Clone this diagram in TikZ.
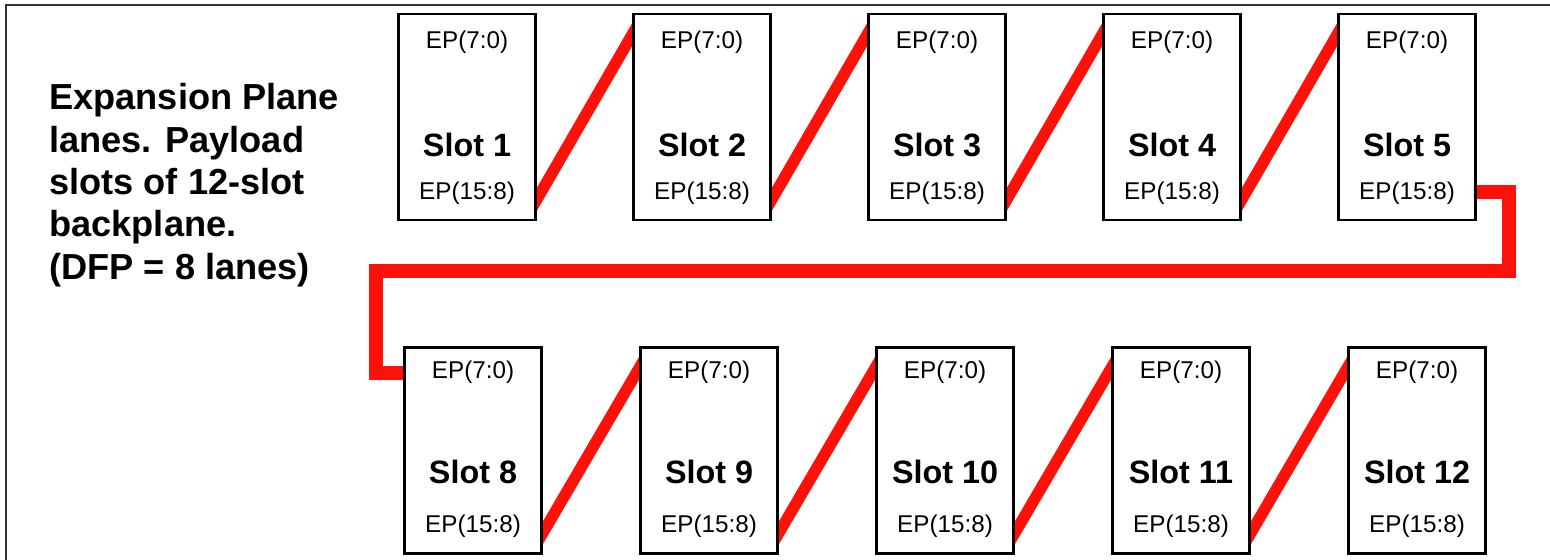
\documentclass[tikz,border=0pt]{standalone}
\usepackage{fontspec}
\setmainfont{Liberation Sans}
\usetikzlibrary{calc,backgrounds}
\definecolor{lanered}{RGB}{255,16,8}
\definecolor{framegray}{RGB}{50,50,50}

\begin{document}
\begin{tikzpicture}[x=0.02cm, y=-0.02cm,
    slotbox/.style={draw=black, line width=1.2pt, fill=white, minimum width=2.74cm, minimum height=4.12cm, inner sep=0pt},
    eplabel/.style={font=\fontsize{13.8}{16}\selectfont, inner sep=0pt},
    slotname/.style={font=\fontsize{18.4}{22}\selectfont\bfseries, inner sep=0pt},
    lane/.style={draw=lanered, line width=0.23cm, shorten <=-6pt, shorten >=-6pt},
    looplane/.style={draw=lanered, line width=0.28cm, line join=miter, shorten <=-6pt, shorten >=-6pt}
  ]
  \useasboundingbox (0,0) rectangle (1550,560);
  \draw[line width=1.3pt, draw=framegray] (6,5) rectangle (1600,600);

  \node[align=left, anchor=west, inner sep=0pt, font=\fontsize{20.6}{24.1}\selectfont\bfseries] (note) at (49,185)
    {Expansion Plane\\lanes. Payload\\slots of 12-slot\\backplane.\\(DFP = 8 lanes)};

  % upper row of slots
  \foreach \i [count=\k from 0] in {1,...,5} {
    \node[slotbox] (s\i) at (467+235*\k,117) {};
    \node[eplabel] (top\i) at ($(s\i.center)+(0,-75)$) {EP(7:0)};
    \node[slotname] (name\i) at ($(s\i.center)+(0,28)$) {Slot \i};
    \node[eplabel] (bot\i) at ($(s\i.center)+(0,76)$) {EP(15:8)};
  }

  % lower row of slots
  \foreach \i [count=\k from 0] in {8,...,12} {
    \node[slotbox] (s\i) at (473+236*\k,450.5) {};
    \node[eplabel] (top\i) at ($(s\i.center)+(0,-78)$) {EP(7:0)};
    \node[slotname] (name\i) at ($(s\i.center)+(0,21)$) {Slot \i};
    \node[eplabel] (bot\i) at ($(s\i.center)+(0,76)$) {EP(15:8)};
  }

  \begin{scope}[on background layer]
    \foreach \a/\b in {1/2,2/3,3/4,4/5,8/9,9/10,10/11,11/12}
      \draw[lane] (s\a.-50) -- (s\b.130);
    \coordinate (bendR) at (1509,271);
    \coordinate (bendL) at (376,271);
    \draw[looplane] (s5.-47) -| (bendR) -- (bendL) |- (s8.132);
  \end{scope}
\end{tikzpicture}
\end{document}
